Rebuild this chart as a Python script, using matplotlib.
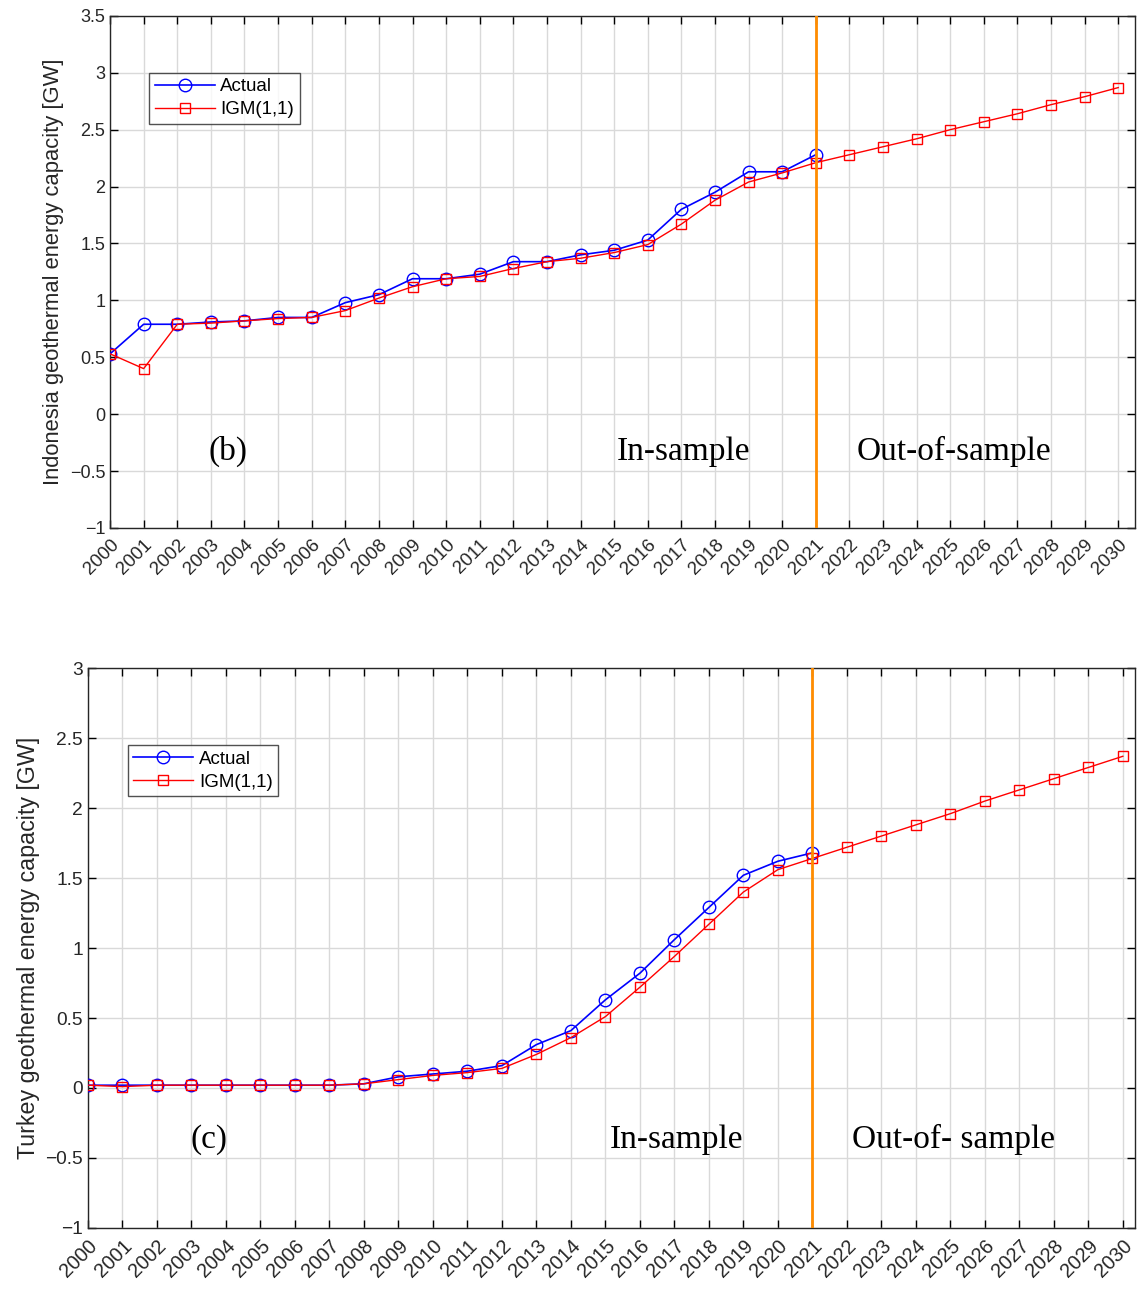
import numpy as np
import matplotlib
matplotlib.use("Agg")
import matplotlib.pyplot as plt

plt.rcParams['font.family'] = ['Liberation Sans', 'DejaVu Sans']

years = np.arange(2000, 2031)
in_years = np.arange(2000, 2022)

# Indonesia (b)
indo_actual = [0.53, 0.79, 0.79, 0.81, 0.82, 0.85, 0.85, 0.98, 1.05, 1.19, 1.19,
               1.23, 1.34, 1.34, 1.40, 1.44, 1.53, 1.80, 1.95, 2.13, 2.13, 2.28]
indo_igm = [0.53, 0.40, 0.79, 0.80, 0.82, 0.84, 0.85, 0.91, 1.02, 1.12, 1.19,
            1.21, 1.28, 1.34, 1.37, 1.42, 1.49, 1.67, 1.88, 2.04, 2.12, 2.21,
            2.28, 2.35, 2.42, 2.50, 2.57, 2.64, 2.72, 2.79, 2.87]

# Turkey (c)
turk_actual = [0.02, 0.02, 0.02, 0.02, 0.02, 0.02, 0.02, 0.02, 0.03, 0.08, 0.10,
               0.12, 0.16, 0.31, 0.41, 0.63, 0.82, 1.06, 1.29, 1.52, 1.62, 1.68]
turk_igm = [0.02, 0.01, 0.02, 0.02, 0.02, 0.02, 0.02, 0.02, 0.03, 0.06, 0.09,
            0.11, 0.14, 0.24, 0.36, 0.51, 0.72, 0.94, 1.17, 1.40, 1.56, 1.64,
            1.72, 1.80, 1.88, 1.96, 2.05, 2.13, 2.21, 2.29, 2.37]

split_year = 2021

fig = plt.figure(figsize=(11.38, 12.93), dpi=100)
ax1 = fig.add_axes([0.0967, 0.5917, 0.9007, 0.396])
ax2 = fig.add_axes([0.0773, 0.0503, 0.920, 0.433])


def draw_panel(ax, actual, igm, ylabel, ylim, yticks, xmax, tag, out_txt,
               txt_y, leg_top, fs):
    ax.plot(in_years, actual, '-o', color='#0000ff', lw=1.2, ms=9,
            mfc='none', mew=1.0, label='Actual', zorder=3)
    ax.plot(years, igm, '-s', color='#ff0000', lw=1.0, ms=7,
            mfc='none', mew=1.0, label='IGM(1,1)', zorder=4)
    ax.axvline(split_year, color='#ff8c00', lw=2, zorder=5)

    ax.set_xlim(2000, xmax)
    ax.set_ylim(*ylim)
    ax.set_xticks(years)
    ax.set_xticklabels([str(y) for y in years], rotation=45, fontsize=13.5 * fs,
                       color='#262626', ha='right', va='top',
                       rotation_mode='anchor')
    ax.set_yticks(yticks)
    ax.set_yticklabels([('%g' % t).replace('-', '\u2212') for t in yticks],
                       fontsize=13 * fs, color='#262626')
    ax.set_ylabel(ylabel, fontsize=15.8 * fs, color='#262626')
    ax.grid(True, color='#d9d9d9', lw=1.0)
    ax.set_axisbelow(True)
    ax.tick_params(direction='in', length=6, top=True, right=True, width=1.0)
    ax.tick_params(axis='x', pad=6)
    for s in ax.spines.values():
        s.set_color('#262626')
        s.set_linewidth(1.0)

    serif = dict(family='Liberation Serif', fontsize=24, color='black')
    ax.text(2003.5, txt_y, tag, ha='center', va='center', **serif)
    ax.text(2017.05, txt_y, 'In-sample', ha='center', va='center', **serif)
    ax.text(2025.1, txt_y, out_txt, ha='center', va='center', **serif)

    leg = ax.legend(loc='upper left', bbox_to_anchor=(0.038, leg_top),
                    fontsize=13.5, frameon=True, fancybox=False,
                    edgecolor='#262626', handlelength=3.2, borderpad=0.3,
                    labelspacing=0.3, handletextpad=0.3, borderaxespad=0)
    leg.get_frame().set_linewidth(1.0)


draw_panel(ax1, indo_actual, indo_igm,
           'Indonesia geothermal energy capacity [GW]',
           (-1, 3.5), np.arange(-1, 3.51, 0.5), 2030.5,
           '(b)', 'Out-of-sample', -0.33, 0.889, 1.0)
draw_panel(ax2, turk_actual, turk_igm,
           'Turkey geothermal energy capacity [GW]',
           (-1, 3), np.arange(-1, 3.01, 0.5), 2030.35,
           '(c)', 'Out-of- sample', -0.37, 0.8625, 1.06)

fig.savefig('out.png', dpi=100)
